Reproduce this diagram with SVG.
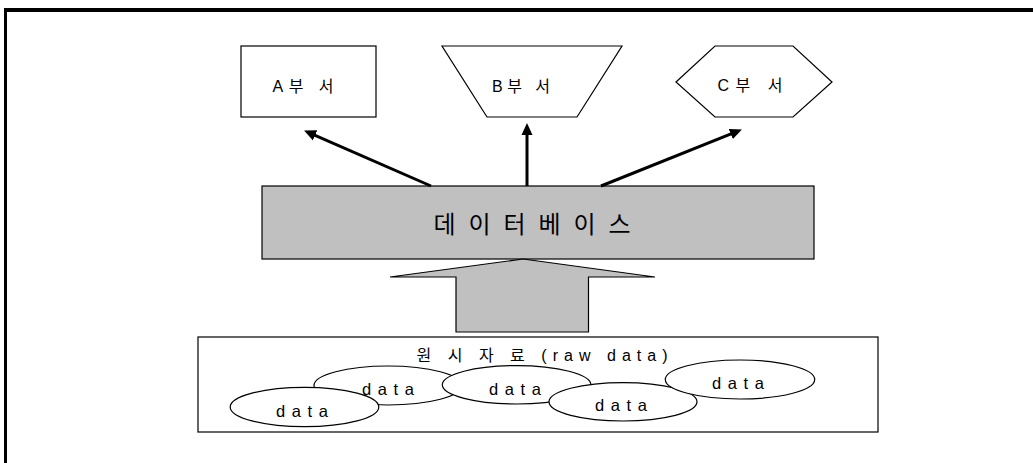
<svg xmlns="http://www.w3.org/2000/svg" width="1033" height="463" viewBox="0 0 1033 463">
<style>
.shape{fill:#fff;stroke:#000;stroke-width:1.2}
.gray{fill:#c0c0c0;stroke:#000;stroke-width:1.2}
.lbl{font-family:"Liberation Sans","Noto Sans CJK KR",sans-serif;font-size:16px;fill:#000;text-anchor:middle}
.dat{font-family:"Liberation Sans","Noto Sans CJK KR",sans-serif;font-size:16.5px;fill:#000;text-anchor:middle}
.big{font-family:"Liberation Sans","Noto Sans CJK KR",sans-serif;font-size:24px;fill:#000;text-anchor:middle}
.conn{stroke:#000;stroke-width:3;fill:none}
</style>
<defs>
<marker id="ah" markerUnits="userSpaceOnUse" markerWidth="13" markerHeight="12" refX="5" refY="6" orient="auto">
<path d="M0,0.5 L12,6 L0,11.5 z" fill="#000"/>
</marker>
</defs>
<rect width="1033" height="463" fill="#fff"/>
<g id="frame">
<line x1="4" y1="10" x2="1033" y2="10" stroke="#000" stroke-width="4"/>
<line x1="5.5" y1="8" x2="5.5" y2="463" stroke="#000" stroke-width="3"/>
</g>
<g id="dept-a">
<rect class="shape" x="241" y="46" width="135" height="71"/>
<text class="lbl" x="303" y="91.5" textLength="61" lengthAdjust="spacing">A부 서</text>
</g>
<g id="dept-b">
<polygon class="shape" points="442,46 622,46 577,117 487,117"/>
<text class="lbl" x="521" y="91.5" textLength="58" lengthAdjust="spacing">B부 서</text>
</g>
<g id="dept-c">
<polygon class="shape" points="676,82 715,46 793,46 832,82 793,117 715,117"/>
<text class="lbl" x="750" y="91" textLength="65" lengthAdjust="spacing">C부 서</text>
</g>
<g id="database">
<rect class="gray" x="262" y="186" width="552" height="73"/>
<text class="big" x="532" y="233" textLength="197" lengthAdjust="spacing">데 이 터 베 이 스</text>
</g>
<g id="connectors">
<line class="conn" x1="431" y1="186" x2="310.5" y2="133.4" marker-end="url(#ah)"/>
<line class="conn" x1="527" y1="186" x2="527" y2="130" marker-end="url(#ah)"/>
<line class="conn" x1="601" y1="186" x2="735.4" y2="132.2" marker-end="url(#ah)"/>
<polygon id="input-arrow" class="gray" points="523,259 655,277 588.5,277 588.5,332 456,332 456,277 390,277"/>
</g>
<g id="raw-data">
<rect class="shape" x="198" y="337" width="680" height="95"/>
<text class="lbl" x="542" y="361" textLength="251" lengthAdjust="spacing">원 시 자 료 (raw data)</text>
<ellipse class="shape" cx="388" cy="385.5" rx="74" ry="19.5"/>
<ellipse class="shape" cx="304.5" cy="407" rx="74.3" ry="19.7"/>
<ellipse class="shape" cx="516.6" cy="384.8" rx="74.3" ry="19.2"/>
<ellipse class="shape" cx="623" cy="401.8" rx="74" ry="19.2"/>
<ellipse class="shape" cx="740" cy="379.5" rx="74.7" ry="19.5"/>
<text class="dat" x="302" y="416.5" textLength="52" lengthAdjust="spacing">data</text>
<text class="dat" x="388" y="394.5" textLength="52" lengthAdjust="spacing">data</text>
<text class="dat" x="515" y="394.5" textLength="52" lengthAdjust="spacing">data</text>
<text class="dat" x="621" y="410.5" textLength="52" lengthAdjust="spacing">data</text>
<text class="dat" x="738" y="388.5" textLength="52" lengthAdjust="spacing">data</text>
</g>
</svg>
